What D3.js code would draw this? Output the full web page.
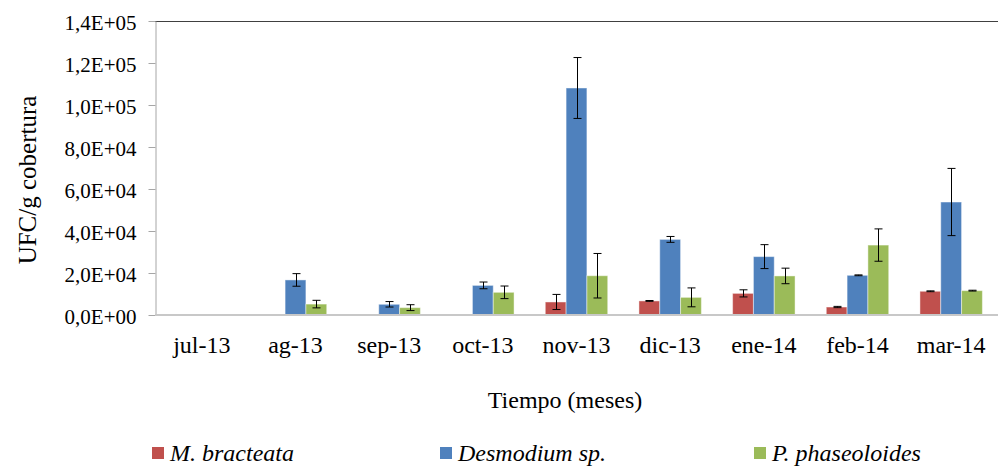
<!DOCTYPE html>
<html>
<head>
<meta charset="utf-8">
<script src="https://cdn.jsdelivr.net/npm/d3@7"></script>
<style>
  body { margin: 0; background: #fff; }
  svg { display: block; font-family: "Liberation Serif", "Times New Roman", serif; }
</style>
</head>
<body>
<svg id="chart" width="998" height="466"></svg>
<script>
// months on the x axis
let months = ["jul-13", "ag-13", "sep-13", "oct-13", "nov-13", "dic-13", "ene-14", "feb-14", "mar-14"];
let seriesNames = ["M. bracteata", "Desmodium sp.", "P. phaseoloides"];
let seriesColors = ["#C0504D", "#4F81BD", "#9BBB59"];

// UFC/g cobertura
let bracteata = [0, 0, 0, 0, 6200, 6700, 10300, 3800, 11300];
let desmodium = [0, 16700, 5100, 14100, 108100, 36000, 27800, 18900, 53800];
let phaseoloides = [0, 5200, 3500, 10800, 18700, 8400, 18600, 33300, 11600];

// error (+/-)
let bracteataErr = [0, 0, 0, 0, 3600, 200, 1700, 300, 200];
let desmodiumErr = [0, 3000, 1300, 1600, 14500, 1400, 5700, 200, 16000];
let phaseoloidesErr = [0, 1800, 1400, 3000, 10600, 4500, 3700, 7700, 200];

let yTicks = [0, 20000, 40000, 60000, 80000, 100000, 120000, 140000];

let values = [bracteata, desmodium, phaseoloides];
let errors = [bracteataErr, desmodiumErr, phaseoloidesErr];

var svg = d3.select("#chart");
var plotLeft = 155, plotRight = 998, plotTop = 21, plotBottom = 315;

var x = d3.scaleBand().domain(months).range([plotLeft, plotRight])
    .paddingInner(1/3).paddingOuter(1/6);
var xs = d3.scaleBand().domain(d3.range(3)).range([0, x.bandwidth()]);
var y = d3.scaleLinear().domain([0, 140000]).range([plotBottom, plotTop]);

function fmt(v) {
    // 1,4E+05 style
    var e = v == 0 ? 0 : Math.floor(Math.log10(v));
    var m = v / Math.pow(10, e);
    var es = (e < 10 ? "0" : "") + e;
    return m.toFixed(1).replace(".", ",") + "E+" + es;
}

// top border of plot area
svg.append("line")
    .attr("x1", plotLeft).attr("x2", plotRight)
    .attr("y1", plotTop + 0.5).attr("y2", plotTop + 0.5)
    .attr("stroke", "#404040").attr("stroke-width", 1);

// y axis
var yAxis = svg.append("g")
    .attr("transform", "translate(" + (plotLeft + 0.5) + ",0)")
    .call(d3.axisLeft(y).tickValues(yTicks).tickFormat(fmt).tickSizeInner(7).tickSizeOuter(0).tickPadding(12));
yAxis.select(".domain").attr("stroke", "#A6A6A6");
yAxis.selectAll(".tick line").attr("stroke", "#A6A6A6");
yAxis.selectAll("text")
    .attr("font-family", "Liberation Serif")
    .attr("font-size", "21px")
    .attr("fill", "#000")
    .attr("dy", "0.4em");

// one record per bar, skipping empty months
var bars = [];
values.forEach(function(vals, si) {
    vals.forEach(function(v, i) {
        if (v > 0) bars.push({ s: si, month: months[i], v: v, e: errors[si][i] });
    });
});

svg.append("g").selectAll("rect")
    .data(bars).enter().append("rect")
    .attr("x", function(d) { return x(d.month) + xs(d.s); })
    .attr("y", function(d) { return y(d.v); })
    .attr("width", xs.bandwidth())
    .attr("height", function(d) { return y(0) - y(d.v); })
    .attr("fill", function(d) { return seriesColors[d.s]; })
    .attr("stroke", "#ffffff")
    .attr("stroke-opacity", 0.45)
    .attr("stroke-width", 1);

// x axis line (drawn over bar bottoms)
svg.append("line")
    .attr("x1", plotLeft).attr("x2", plotRight)
    .attr("y1", plotBottom).attr("y2", plotBottom)
    .attr("stroke", "#C8C8C8").attr("stroke-width", 2);

// error bars
var capW = 8;
var eg = svg.append("g").attr("stroke", "#000").attr("stroke-width", 1)
    .selectAll("g").data(bars).enter().append("g");
function cxOf(d) { return Math.round(x(d.month) + xs(d.s) + xs.bandwidth() / 2) + 0.5; }
eg.append("line")
    .attr("x1", cxOf).attr("x2", cxOf)
    .attr("y1", function(d) { return y(d.v + d.e); })
    .attr("y2", function(d) { return y(d.v - d.e); });
eg.append("line")
    .attr("x1", function(d) { return cxOf(d) - capW / 2; })
    .attr("x2", function(d) { return cxOf(d) + capW / 2; })
    .attr("y1", function(d) { return y(d.v + d.e); })
    .attr("y2", function(d) { return y(d.v + d.e); });
eg.append("line")
    .attr("x1", function(d) { return cxOf(d) - capW / 2; })
    .attr("x2", function(d) { return cxOf(d) + capW / 2; })
    .attr("y1", function(d) { return y(d.v - d.e); })
    .attr("y2", function(d) { return y(d.v - d.e); });

// x tick labels
svg.append("g").selectAll("text")
    .data(months).enter().append("text")
    .attr("x", function(d) { return x(d) + x.bandwidth() / 2; })
    .attr("y", 353)
    .attr("text-anchor", "middle")
    .attr("font-size", "24px")
    .text(function(d) { return d; });

// axis titles
svg.append("text")
    .attr("x", 565).attr("y", 408)
    .attr("text-anchor", "middle")
    .attr("font-size", "24px")
    .text("Tiempo (meses)");

svg.append("text")
    .attr("transform", "translate(36,180) rotate(-90)")
    .attr("text-anchor", "middle")
    .attr("font-size", "25px")
    .text("UFC/g cobertura");

// legend
var legendX = [152, 440, 754];
var leg = svg.append("g").selectAll("g")
    .data(seriesNames).enter().append("g")
    .attr("transform", function(d, i) { return "translate(" + legendX[i] + ",0)"; });
leg.append("rect")
    .attr("x", 0).attr("y", 447)
    .attr("width", 12).attr("height", 12)
    .attr("fill", function(d, i) { return seriesColors[i]; });
leg.append("text")
    .attr("x", 18).attr("y", 461)
    .attr("font-size", "24px")
    .attr("font-style", "italic")
    .text(function(d) { return d; });
</script>
</body>
</html>
